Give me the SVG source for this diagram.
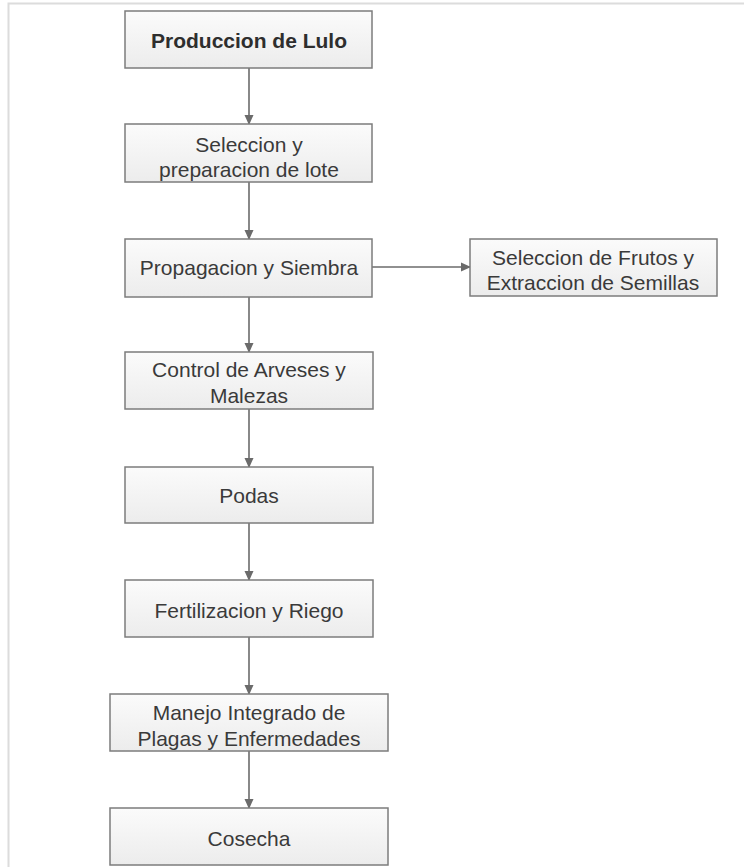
<svg xmlns="http://www.w3.org/2000/svg" width="744" height="867" viewBox="0 0 744 867">
<defs>
<linearGradient id="g" x1="0" y1="0" x2="0" y2="1">
<stop offset="0" stop-color="#fbfbfb"/>
<stop offset="1" stop-color="#ececec"/>
</linearGradient>
<marker id="ah" markerWidth="10" markerHeight="10" refX="9" refY="5" orient="auto" markerUnits="userSpaceOnUse">
<path d="M0,0.5 L10,5 L0,9.5 Z" fill="#6b6b6b"/>
</marker>
</defs>
<style>
.box{fill:url(#g);stroke:#7c7c7c;stroke-width:1.5}
.t{font-family:"Liberation Sans",Arial,sans-serif;font-size:21px;fill:#3a3a3a;text-anchor:middle}
.b{font-weight:bold;fill:#2e2e2e}
.c{stroke:#6b6b6b;stroke-width:1.6;fill:none;marker-end:url(#ah)}
</style>
<rect width="744" height="867" fill="#ffffff"/>
<path d="M8.5,867 V3.5 H744" fill="none" stroke="#dcdcdc" stroke-width="2"/>
<g id="connectors">
<line class="c" x1="249" y1="68" x2="249" y2="124"/>
<line class="c" x1="249" y1="182" x2="249" y2="239"/>
<line class="c" x1="372" y1="267" x2="470" y2="267"/>
<line class="c" x1="249" y1="297" x2="249" y2="352"/>
<line class="c" x1="249" y1="409" x2="249" y2="467"/>
<line class="c" x1="249" y1="523" x2="249" y2="580"/>
<line class="c" x1="249" y1="637" x2="249" y2="694"/>
<line class="c" x1="249" y1="751" x2="249" y2="808"/>
</g>
<g id="n1"><rect class="box" x="125" y="11" width="247" height="57"/><text class="t b" x="249" y="48">Produccion de Lulo</text></g>
<g id="n2"><rect class="box" x="125" y="124" width="247" height="58"/><text class="t" x="249" y="152">Seleccion y</text><text class="t" x="249" y="177">preparacion de lote</text></g>
<g id="n3"><rect class="box" x="125" y="239" width="247" height="58"/><text class="t" x="249" y="275">Propagacion y Siembra</text></g>
<g id="n3b"><rect class="box" x="470" y="239" width="247" height="57"/><text class="t" x="593" y="265">Seleccion de Frutos y</text><text class="t" x="593" y="290">Extraccion de Semillas</text></g>
<g id="n4"><rect class="box" x="125" y="352" width="248" height="57"/><text class="t" x="249" y="377">Control de Arveses y</text><text class="t" x="249" y="403">Malezas</text></g>
<g id="n5"><rect class="box" x="125" y="467" width="248" height="56"/><text class="t" x="249" y="503">Podas</text></g>
<g id="n6"><rect class="box" x="125" y="580" width="248" height="57"/><text class="t" x="249" y="618">Fertilizacion y Riego</text></g>
<g id="n7"><rect class="box" x="110" y="694" width="278" height="57"/><text class="t" x="249" y="720">Manejo Integrado de</text><text class="t" x="249" y="746">Plagas y Enfermedades</text></g>
<g id="n8"><rect class="box" x="110" y="808" width="278" height="57"/><text class="t" x="249" y="846">Cosecha</text></g>
</svg>
